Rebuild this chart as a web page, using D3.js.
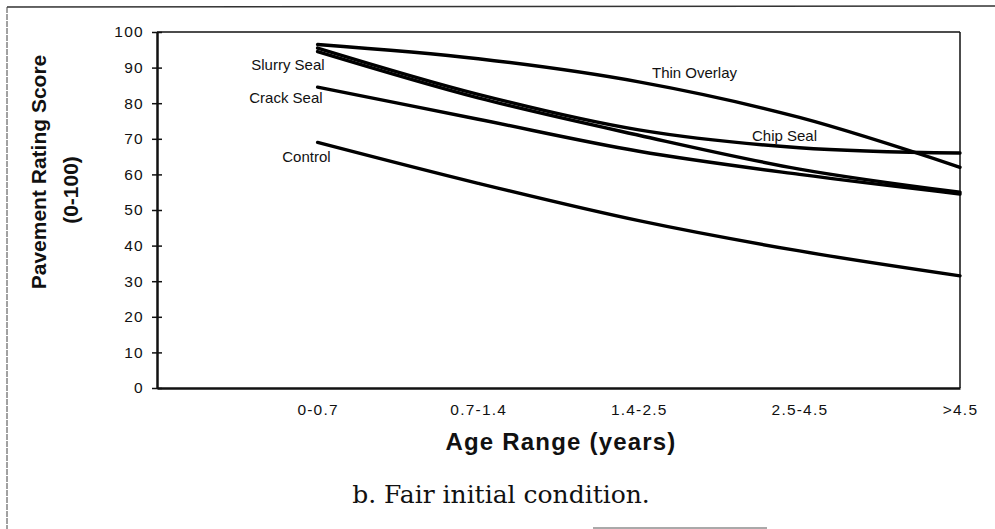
<!DOCTYPE html>
<html>
<head>
<meta charset="utf-8">
<script src="https://cdn.jsdelivr.net/npm/d3@7"></script>
<style>
  body { margin: 0; background: #fff; }
  svg text { fill: #111; }
</style>
</head>
<body>
<div class="root"></div>
<script>
var ageRanges = ['0-0.7', '0.7-1.4', '1.4-2.5', '2.5-4.5', '>4.5'];
var yTicks = [0, 10, 20, 30, 40, 50, 60, 70, 80, 90, 100];

var thinOverlay = [96.5, 92.5, 86, 76, 62];
var chipSeal = [95.5, 82.5, 72.5, 67.5, 66];
var slurrySeal = [94.5, 81.5, 71, 61.5, 55];
var crackSeal = [84.5, 75.5, 66.5, 60, 54.5];
var control = [69, 57.5, 47, 38.5, 31.5];

var seriesNames = ['Thin Overlay', 'Chip Seal', 'Slurry Seal', 'Crack Seal', 'Control'];
var seriesValues = [thinOverlay, chipSeal, slurrySeal, crackSeal, control];

function runChart() {
  var w = 995;
  var h = 529;

  var svg = d3.select('.root').append('svg')
    .attr('width', w)
    .attr('height', h);

  // outer frame of the scanned figure
  svg.append('line').attr('x1', 7).attr('y1', 7).attr('x2', 995).attr('y2', 6)
    .attr('stroke', '#333').attr('stroke-width', 1.5);
  svg.append('line').attr('x1', 7).attr('y1', 7).attr('x2', 7).attr('y2', 529)
    .attr('stroke', '#444').attr('stroke-width', 1).attr('stroke-dasharray', '6,1');
  svg.append('line').attr('x1', 593).attr('y1', 528).attr('x2', 767).attr('y2', 528)
    .attr('stroke', '#555').attr('stroke-width', 1);

  var x = d3.scalePoint()
    .domain([''].concat(ageRanges))
    .range([157, 960]);

  var y = d3.scaleLinear()
    .domain([0, 100])
    .range([388, 32]);

  // plot box top and right
  svg.append('line').attr('x1', 157).attr('y1', y(100)).attr('x2', 960).attr('y2', y(100))
    .attr('stroke', '#111').attr('stroke-width', 1.5);
  svg.append('line').attr('x1', 960).attr('y1', y(100)).attr('x2', 960).attr('y2', y(0))
    .attr('stroke', '#111').attr('stroke-width', 1.5);

  var yAxis = svg.append('g')
    .attr('transform', 'translate(157,0)')
    .call(d3.axisLeft(y).tickValues(yTicks).tickSize(5).tickSizeOuter(0).tickPadding(9));
  yAxis.select('.domain').attr('stroke', '#111').attr('stroke-width', 2.5);
  yAxis.selectAll('.tick line').attr('x2', 5).attr('x1', -5).attr('stroke', '#111').attr('stroke-width', 1.5);
  yAxis.selectAll('.tick text')
    .attr('font-family', 'Liberation Sans, Arial, sans-serif')
    .attr('font-size', 15.5)
    .attr('letter-spacing', 1.3)
    .attr('dx', 1)
    .style('fill', '#111');

  var xAxis = svg.append('g')
    .attr('transform', 'translate(0,' + y(0) + ')')
    .call(d3.axisBottom(x).tickValues(ageRanges).tickSize(0).tickSizeOuter(0).tickPadding(16));
  xAxis.select('.domain').attr('stroke', '#111').attr('stroke-width', 2.5);
  xAxis.selectAll('.tick text')
    .attr('font-family', 'Liberation Sans, Arial, sans-serif')
    .attr('font-size', 15.5)
    .attr('letter-spacing', 1.2)
    .style('fill', '#111');

  var line = d3.line()
    .x(function(d, i) { return x(ageRanges[i]); })
    .y(function(d) { return y(d); })
    .curve(d3.curveCatmullRom.alpha(0.5));

  svg.append('g')
    .attr('class', 'series')
    .selectAll('path')
      .data(seriesValues)
      .enter().append('path')
        .attr('d', line)
        .attr('fill', 'none')
        .attr('stroke', '#000')
        .attr('stroke-width', 3.4)
        .attr('stroke-linecap', 'round');

  // series labels, placed next to their curves
  var x0 = x(ageRanges[0]);
  var labels = [
    {name: seriesNames[0], x: 652, y: y(88.5), anchor: 'start'},
    {name: seriesNames[1], x: 752, y: y(70.8), anchor: 'start'},
    {name: seriesNames[2], x: x0 + 7, y: y(90.7), anchor: 'end'},
    {name: seriesNames[3], x: x0 + 5, y: y(81.5), anchor: 'end'},
    {name: seriesNames[4], x: x0 + 13, y: y(64.9), anchor: 'end'}
  ];
  svg.append('g')
    .selectAll('text')
      .data(labels)
      .enter().append('text')
        .attr('x', function(d) { return d.x; })
        .attr('y', function(d) { return d.y; })
        .attr('dy', '0.35em')
        .attr('text-anchor', function(d) { return d.anchor; })
        .attr('font-family', 'Liberation Sans, Arial, sans-serif')
        .attr('font-size', 15)
        .text(function(d) { return d.name; });

  svg.append('text')
    .attr('x', 561)
    .attr('y', 450)
    .attr('text-anchor', 'middle')
    .attr('font-family', 'Liberation Sans, Arial, sans-serif')
    .attr('font-weight', 'bold')
    .attr('font-size', 24)
    .attr('letter-spacing', 1.2)
    .text('Age Range (years)');

  svg.append('text')
    .attr('transform', 'translate(46,172) rotate(-90)')
    .attr('text-anchor', 'middle')
    .attr('font-family', 'Liberation Sans, Arial, sans-serif')
    .attr('font-weight', 'bold')
    .attr('font-size', 21)
    .text('Pavement Rating Score');

  svg.append('text')
    .attr('transform', 'translate(78,190) rotate(-90)')
    .attr('text-anchor', 'middle')
    .attr('font-family', 'Liberation Sans, Arial, sans-serif')
    .attr('font-weight', 'bold')
    .attr('font-size', 21)
    .text('(0-100)');

  svg.append('text')
    .attr('x', 501)
    .attr('y', 503)
    .attr('text-anchor', 'middle')
    .attr('font-family', 'DejaVu Serif, serif')
    .attr('font-size', 25)
    .text('b. Fair initial condition.');
}

window.onload = function() {
  runChart();
}
</script>
</body>
</html>
